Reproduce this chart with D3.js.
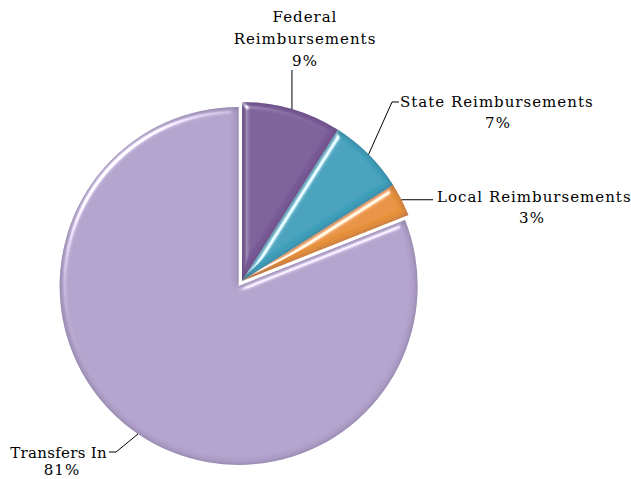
<!DOCTYPE html>
<html>
<head>
<meta charset="utf-8">
<script src="https://cdn.jsdelivr.net/npm/d3@7"></script>
<style>
  html, body { margin: 0; padding: 0; background: #fff; }
  svg { display: block; }
  text { font-family: "DejaVu Serif", "Liberation Serif", serif; font-size: 15px; fill: #000; letter-spacing: 1px; }
</style>
</head>
<body>
<svg id="chart" width="631" height="479"></svg>
<script>
// Revenue sources, share of total (%)
const categories = ["Federal Reimbursements", "State Reimbursements", "Local Reimbursements", "Transfers In"];
const values = [9, 7, 3, 81];
const labelLines = [["Federal", "Reimbursements"], ["State Reimbursements"], ["Local Reimbursements"], ["Transfers In"]];
const colors = ["#7a5c98", "#3fa0bb", "#e6913a", "#b1a1cb"];

const cx = 242, cy = 281, radius = 179;

const svg = d3.select("#chart");
const defs = svg.append("defs");

// Bevel: dark inner rim from the blurred alpha, then a specular highlight along the edges
const f = defs.append("filter").attr("id", "bevel")
  .attr("x", "-10%").attr("y", "-10%").attr("width", "120%").attr("height", "120%");
f.append("feGaussianBlur").attr("in", "SourceAlpha").attr("stdDeviation", 3).attr("result", "blur");
f.append("feSpecularLighting").attr("in", "blur").attr("surfaceScale", 4)
  .attr("specularConstant", 1.1).attr("specularExponent", 40)
  .attr("lighting-color", "#ffffff").attr("result", "spec")
  .append("feDistantLight").attr("azimuth", 225).attr("elevation", 40);
f.append("feComposite").attr("in", "spec").attr("in2", "SourceAlpha").attr("operator", "in").attr("result", "specIn");
f.append("feComponentTransfer").attr("in", "blur").attr("result", "invBlur")
  .append("feFuncA").attr("type", "table").attr("tableValues", "1 0");
f.append("feFlood").attr("flood-color", "#3c2f55").attr("flood-opacity", 0.6).attr("result", "shadeCol");
f.append("feComposite").attr("in", "shadeCol").attr("in2", "invBlur").attr("operator", "in").attr("result", "shade1");
f.append("feComposite").attr("in", "shade1").attr("in2", "SourceAlpha").attr("operator", "in").attr("result", "shade");
f.append("feMerge").attr("result", "base").selectAll("feMergeNode")
  .data(["SourceGraphic", "shade"]).join("feMergeNode").attr("in", d => d);
f.append("feComposite").attr("in", "base").attr("in2", "specIn").attr("operator", "arithmetic")
  .attr("k1", 0).attr("k2", 1).attr("k3", 0.9).attr("k4", 0);

const pie = d3.pie().sort(null).value(d => d.value);
const data = categories.map((c, i) => ({ category: c, value: values[i], lines: labelLines[i], color: colors[i] }));
const arcs = pie(data);

const arc = d3.arc().innerRadius(0).outerRadius(radius);
const outer = d3.arc().innerRadius(radius).outerRadius(radius);

const g = svg.append("g").attr("transform", `translate(${cx},${cy})`);

// the largest slice is pulled slightly away from the centre
const explode = d => d.data.category === "Transfers In" ? 6 : 0;

g.selectAll("path.slice")
  .data(arcs)
  .join("path")
  .attr("class", "slice")
  .attr("d", arc)
  .attr("fill", d => d.data.color)
  .attr("filter", "url(#bevel)")
  .attr("transform", d => {
    const a = (d.startAngle + d.endAngle) / 2, e = explode(d);
    return `translate(${Math.sin(a) * e},${-Math.cos(a) * e})`;
  });

// label anchor positions and leader line elbows
const labelPos = [
  { x: 305, y: 22, anchor: "middle", elbow: null },
  { x: 400, y: 107, anchor: "start", elbow: [392, 102] },
  { x: 437, y: 202, anchor: "start", elbow: null },
  { x: 107, y: 458, anchor: "end", elbow: [116, 452] }
];
const pctPos = [
  { x: 305, y: 66 },
  { x: 498, y: 128 },
  { x: 532, y: 223 },
  { x: 62, y: 475 }
];

arcs.forEach((d, i) => {
  const p = outer.centroid(d);
  const e = explode(d), a = (d.startAngle + d.endAngle) / 2;
  const sx = cx + p[0] + Math.sin(a) * e, sy = cy + p[1] - Math.cos(a) * e;
  const lp = labelPos[i];
  let pts;
  if (i === 0) pts = [[sx, sy], [sx, 70]];
  else if (i === 1) pts = [[sx, sy], lp.elbow, [lp.x - 1, lp.elbow[1]]];
  else if (i === 2) pts = [[sx, sy], [lp.x - 4, sy]];
  else pts = [[sx, sy], lp.elbow, [lp.x + 2, lp.elbow[1]]];
  svg.append("path")
    .attr("d", d3.line()(pts))
    .attr("fill", "none").attr("stroke", "#000").attr("stroke-width", 1);

  const t = svg.append("text").attr("text-anchor", lp.anchor)
    .style("letter-spacing", i === 3 ? "0.3px" : null);
  d.data.lines.forEach((ln, j) => {
    t.append("tspan").attr("x", lp.x).attr("y", lp.y + j * 22).text(ln);
  });
  svg.append("text").attr("text-anchor", "middle")
    .attr("x", pctPos[i].x).attr("y", pctPos[i].y)
    .text(d.data.value + "%");
});
</script>
</body>
</html>
